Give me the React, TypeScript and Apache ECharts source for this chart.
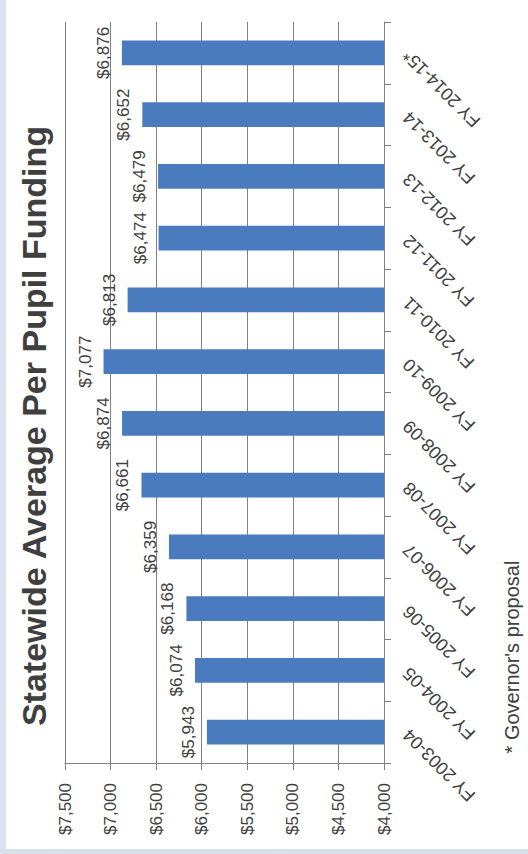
import React, { useEffect, useRef } from 'react';
import * as echarts from 'echarts';

const categories = [
  'FY 2003-04',
  'FY 2004-05',
  'FY 2005-06',
  'FY 2006-07',
  'FY 2007-08',
  'FY 2008-09',
  'FY 2009-10',
  'FY 2010-11',
  'FY 2011-12',
  'FY 2012-13',
  'FY 2013-14',
  'FY 2014-15*',
];
const funding = [5943, 6074, 6168, 6359, 6661, 6874, 7077, 6813, 6474, 6479, 6652, 6876];
const axisMin = 4000;
const axisMax = 7500;
const axisInterval = 500;
const titleText = 'Statewide Average Per Pupil Funding';
const footnoteText = "* Governor's proposal";

const FONT = '"Liberation Sans", Arial, sans-serif';

function money(v: number): string {
  const s = String(Math.round(v));
  return '$' + s.replace(/\B(?=(\d{3})+(?!\d))/g, ',');
}

export default function App() {
  const ref = useRef<HTMLDivElement>(null);

  useEffect(() => {
    document.body.style.margin = '0';
    if (!ref.current) return;
    const chart = echarts.init(ref.current, null, { renderer: 'svg' });
    chart.setOption({
      animation: false,
      backgroundColor: '#ffffff',
      textStyle: { fontFamily: FONT },
      grid: {
        left: 65,
        right: 144,
        top: 22,
        bottom: 91,
        containLabel: false,
        outerBoundsMode: 'none',
      },
      xAxis: {
        type: 'value',
        inverse: true,
        min: axisMin,
        max: axisMax,
        interval: axisInterval,
        position: 'bottom',
        axisLine: { show: true, onZero: false, lineStyle: { color: '#7f7f7f', width: 1 } },
        axisTick: { show: true, length: 7, lineStyle: { color: '#7f7f7f', width: 1 } },
        axisLabel: {
          rotate: 90,
          margin: 20,
          fontSize: 17,
          color: '#404040',
          fontFamily: FONT,
          formatter: (v: number) => money(v),
        },
        splitLine: { show: true, lineStyle: { color: '#7f7f7f', width: 1 } },
      },
      yAxis: {
        type: 'category',
        data: categories,
        position: 'right',
        axisLine: { show: true, onZero: false, lineStyle: { color: '#7f7f7f', width: 1 } },
        axisTick: { show: true, length: 7, interval: 0, alignWithLabel: false, lineStyle: { color: '#7f7f7f', width: 1 } },
        axisLabel: {
          interval: 0,
          rotate: 135,
          align: 'right',
          verticalAlign: 'middle',
          margin: 22,
          fontSize: 18,
          color: '#404040',
          fontFamily: FONT,
        },
        splitLine: { show: false },
      },
      series: [
        {
          type: 'bar',
          data: funding,
          barWidth: '40%',
          itemStyle: { color: '#4a7bbf' },
          label: {
            show: true,
            position: 'left',
            rotate: 90,
            align: 'center',
            verticalAlign: 'bottom',
            distance: 10,
            fontSize: 17,
            color: '#404040',
            fontFamily: FONT,
            formatter: (p: any) => money(p.value),
          },
        },
      ],
      graphic: [
        {
          type: 'rect',
          shape: { x: 0, y: 0, width: 6, height: 854 },
          style: { fill: '#dfe3f1' },
          silent: true,
        },
        {
          type: 'rect',
          shape: { x: 0, y: 849, width: 528, height: 5 },
          style: { fill: '#dadfea' },
          silent: true,
        },
        {
          type: 'text',
          x: 34,
          y: 426,
          rotation: Math.PI / 2,
          style: {
            text: titleText,
            font: 'bold 34px ' + FONT,
            fill: '#3f3f3f',
            align: 'center',
            verticalAlign: 'middle',
            textAlign: 'center',
            textVerticalAlign: 'middle',
          },
        },
        {
          type: 'text',
          x: 512,
          y: 657,
          rotation: Math.PI / 2,
          style: {
            text: footnoteText,
            font: '20px ' + FONT,
            fill: '#404040',
            align: 'center',
            verticalAlign: 'middle',
            textAlign: 'center',
            textVerticalAlign: 'middle',
          },
        },
      ],
    });
    return () => chart.dispose();
  }, []);

  return <div ref={ref} style={{ width: 528, height: 854 }} />;
}
